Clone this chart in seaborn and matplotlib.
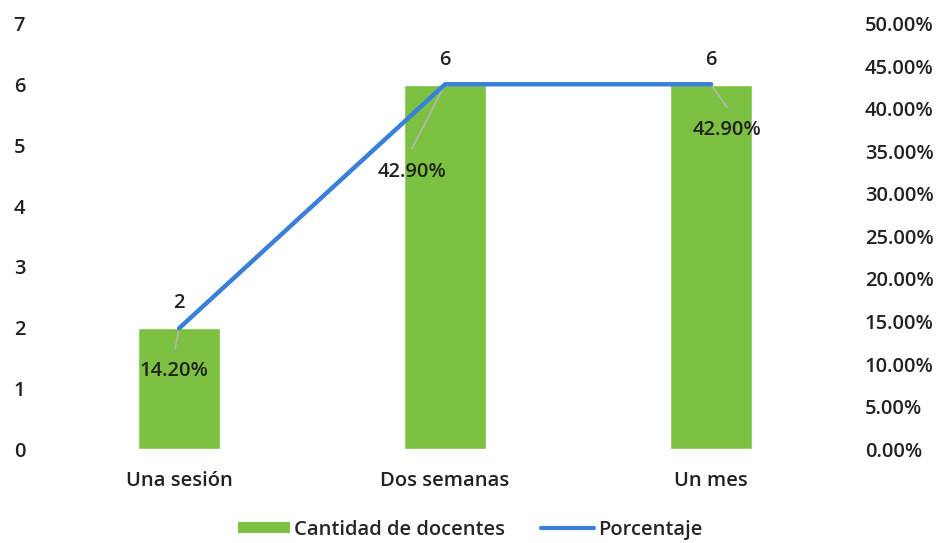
import matplotlib
matplotlib.use("Agg")
import matplotlib.pyplot as plt
import seaborn as sns
import pandas as pd
from matplotlib.patches import Patch
from matplotlib.lines import Line2D

categories = ["Una sesión", "Dos semanas", "Un mes"]
docentes = [2, 6, 6]
porcentaje = [14.20, 42.90, 42.90]
left_ticks = [0, 1, 2, 3, 4, 5, 6, 7]
right_ticks = [0, 5, 10, 15, 20, 25, 30, 35, 40, 45, 50]

df = pd.DataFrame({"cat": categories, "doc": docentes, "pct": porcentaje})

sns.set_theme(style="white")
plt.rcParams["font.family"] = ["Open Sans", "DejaVu Sans"]

GREEN = "#7cc142"
BLUE = "#3a7fd8"
TXT = "#222222"
FS = 14.5

fig = plt.figure(figsize=(9.4, 5.43), dpi=100)
ax = fig.add_axes([0.049, 0.173, 0.849, 0.783])
sns.barplot(data=df, x="cat", y="doc", color=GREEN, width=0.31, saturation=1, ax=ax)
ax.set_ylim(0, 7)
ax.set_yticks(left_ticks)
ax.set_xlim(-0.5, 2.5)
ax.set_xlabel("")
ax.set_ylabel("")
for s in ax.spines.values():
    s.set_visible(False)
ax.tick_params(axis="both", length=0, labelsize=FS, colors=TXT)
ax.tick_params(axis="y", pad=15)
ax.tick_params(axis="x", pad=16)
for lab in ax.get_xticklabels() + ax.get_yticklabels():
    lab.set_fontweight("semibold")

ax2 = ax.twinx()
sns.lineplot(x=[0, 1, 2], y=porcentaje, color=BLUE, linewidth=3.2, ax=ax2)
ax2.set_ylim(0, 50)
ax2.set_yticks(right_ticks)
ax2.set_yticklabels([f"{v:.2f}%" for v in right_ticks])
ax2.set_xlim(-0.5, 2.5)
for s in ax2.spines.values():
    s.set_visible(False)
ax2.tick_params(axis="y", length=0, labelsize=FS, colors=TXT, pad=15)
for lab in ax2.get_yticklabels():
    lab.set_fontweight("semibold")

# value labels above bars
for i, v in enumerate(docentes):
    ax.text(i, v + 0.4, str(v), ha="center", va="center", fontsize=FS,
            fontweight="semibold", color=TXT)

# percentage labels with leader lines (label offset, leader end offset)
lab_off = [(-0.02, -5.0), (-0.124, -10.3), (0.06, -5.4)]
lead_off = [(-0.015, -2.4), (-0.125, -7.6), (0.06, -2.7)]
for i, p in enumerate(porcentaje):
    (dx, dy), (lx, ly) = lab_off[i], lead_off[i]
    ax2.plot([i, i + lx], [p, p + ly], color="#b5b5b5", lw=1.2, zorder=1)
    ax2.text(i + dx, p + dy, f"{p:.2f}%", ha="center", va="center", fontsize=FS,
             fontweight="semibold", color=TXT)

handles = [Patch(facecolor=GREEN, edgecolor="none"),
           Line2D([0], [0], color=BLUE, lw=3)]
fig.legend(handles, ["Cantidad de docentes", "Porcentaje"], loc="lower center",
           bbox_to_anchor=(0.5, -0.027), ncol=2, frameon=False,
           handlelength=2.6, handleheight=0.45, handletextpad=0.2, columnspacing=1.8,
           prop={"weight": "semibold", "size": FS})

fig.savefig("out.png", dpi=100)
